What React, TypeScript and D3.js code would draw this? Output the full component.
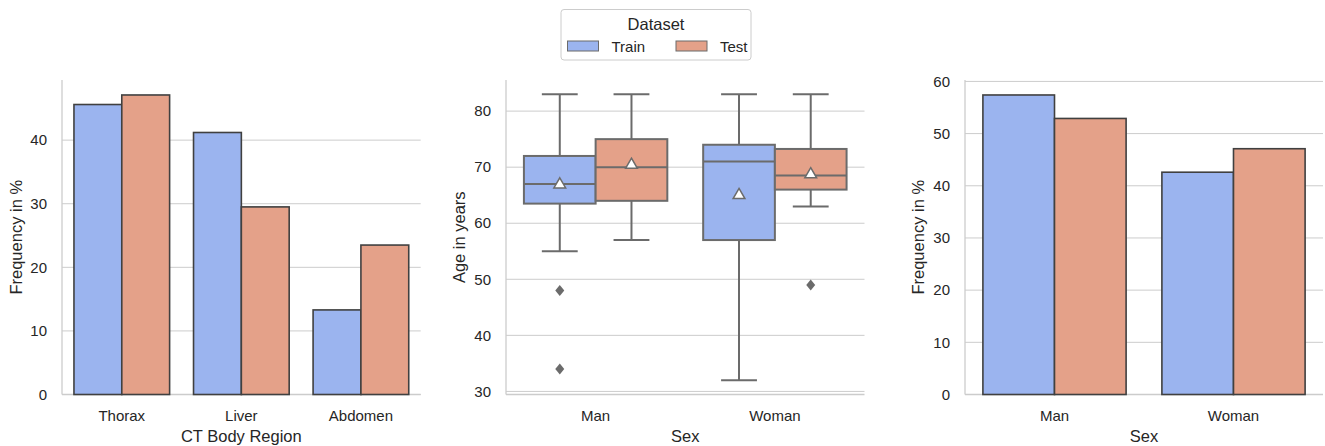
import * as d3 from 'd3'

// values
const regions = ['Thorax', 'Liver', 'Abdomen']
const regionTrain = [45.6, 41.2, 13.3]
const regionTest = [47.1, 29.5, 23.5]

const sexes = ['Man', 'Woman']
const sexTrain = [57.4, 42.6]
const sexTest = [52.9, 47.1]

// age boxplots: [Man, Woman]
const ageTrainLow = [55, 32]
const ageTrainQ1 = [63.5, 57]
const ageTrainMed = [67, 71]
const ageTrainQ3 = [72, 74]
const ageTrainHigh = [83, 83]
const ageTrainMean = [66.9, 65]
const ageTrainOut = [[48, 34], []]

const ageTestLow = [57, 63]
const ageTestQ1 = [64, 66]
const ageTestMed = [70, 68.5]
const ageTestQ3 = [75, 73.25]
const ageTestHigh = [83, 83]
const ageTestMean = [70.4, 68.7]
const ageTestOut = [[], [49]]

const ageTicks = [30, 40, 50, 60, 70, 80]
const regionTicks = [0, 10, 20, 30, 40]
const sexTicks = [0, 10, 20, 30, 40, 50, 60]

const seriesNames = ['Train', 'Test']
const colors = ['#9bb4ef', '#e4a189']
const boxGray = '#6b6b6b'
const barEdge = '#404040'
const gridColor = '#cccccc'
const textColor = '#262626'
const font = '"Liberation Sans", Arial, sans-serif'

const TOP = 80
const BOTTOM = 394.5

function Frame({ x0, x1, y, ticks, cats, xs, ylabel, xlabel, labelX }) {
  return (
    <g>
      {ticks.map((t) => (
        <g key={t}>
          <line x1={x0} x2={x1} y1={y(t)} y2={y(t)} stroke={gridColor} strokeWidth={1} />
          <text x={x0 - 15} y={y(t)} dy="0.35em" textAnchor="end" fontSize={15} fill={textColor}>{t}</text>
        </g>
      ))}
      <line x1={x0} x2={x0} y1={TOP} y2={BOTTOM} stroke={gridColor} strokeWidth={1.3} />
      <line x1={x0} x2={x1} y1={BOTTOM} y2={BOTTOM} stroke={gridColor} strokeWidth={1.3} />
      {cats.map((c) => (
        <text key={c} x={xs(c) + xs.bandwidth() / 2} y={421} textAnchor="middle" fontSize={15} fill={textColor}>{c}</text>
      ))}
      <text x={(x0 + x1) / 2} y={442} textAnchor="middle" fontSize={16.5} fill={textColor}>{xlabel}</text>
      <text transform={`translate(${labelX},${(TOP + BOTTOM) / 2}) rotate(-90)`} textAnchor="middle" dy="0.35em" fontSize={16.5} fill={textColor}>{ylabel}</text>
    </g>
  )
}

function BarPanel({ x0, x1, cats, train, test, ticks, ylabel, xlabel, labelX }) {
  const ymax = d3.max([...train, ...test]) * 1.05
  const y = d3.scaleLinear().domain([0, ymax]).range([BOTTOM, TOP])
  const xs = d3.scaleBand().domain(cats).range([x0, x1])
  const inner = d3.scaleBand().domain(seriesNames).range([0, xs.bandwidth() * 0.8])
  const off = xs.bandwidth() * 0.1
  const series = [train, test]
  return (
    <g>
      <Frame x0={x0} x1={x1} y={y} ticks={ticks} cats={cats} xs={xs} ylabel={ylabel} xlabel={xlabel} labelX={labelX} />
      {series.map((vals, si) =>
        vals.map((v, i) => (
          <rect key={`${si}-${i}`}
            x={xs(cats[i]) + off + inner(seriesNames[si])}
            y={y(v)}
            width={inner.bandwidth()}
            height={y(0) - y(v)}
            fill={colors[si]} stroke={barEdge} strokeWidth={1.6} />
        ))
      )}
    </g>
  )
}

function BoxPanel({ x0, x1 }) {
  const lo = 32, hi = 83
  const pad = (hi - lo) * 0.05
  const y = d3.scaleLinear().domain([lo - pad, hi + pad]).range([BOTTOM, TOP])
  const xs = d3.scaleBand().domain(sexes).range([x0, x1])
  const inner = d3.scaleBand().domain(seriesNames).range([0, xs.bandwidth() * 0.8])
  const off = xs.bandwidth() * 0.1
  const stats = [
    { low: ageTrainLow, q1: ageTrainQ1, med: ageTrainMed, q3: ageTrainQ3, high: ageTrainHigh, mean: ageTrainMean, out: ageTrainOut },
    { low: ageTestLow, q1: ageTestQ1, med: ageTestMed, q3: ageTestQ3, high: ageTestHigh, mean: ageTestMean, out: ageTestOut },
  ]
  const tri = d3.symbol().type(d3.symbolTriangle).size(60)()
  const diamond = 'M0,-5.5L4.5,0L0,5.5L-4.5,0Z'
  return (
    <g>
      <Frame x0={x0} x1={x1} y={y} ticks={ageTicks} cats={sexes} xs={xs} ylabel="Age in years" xlabel="Sex" labelX={459} />
      {stats.map((s, si) =>
        sexes.map((c, i) => {
          const bx = xs(c) + off + inner(seriesNames[si])
          const bw = inner.bandwidth()
          const cx = bx + bw / 2
          const cap = bw / 4
          return (
            <g key={`${si}-${i}`} stroke={boxGray} strokeWidth={2} fill="none">
              <line x1={cx} x2={cx} y1={y(s.high[i])} y2={y(s.q3[i])} />
              <line x1={cx} x2={cx} y1={y(s.q1[i])} y2={y(s.low[i])} />
              <line x1={cx - cap} x2={cx + cap} y1={y(s.high[i])} y2={y(s.high[i])} />
              <line x1={cx - cap} x2={cx + cap} y1={y(s.low[i])} y2={y(s.low[i])} />
              <rect x={bx} y={y(s.q3[i])} width={bw} height={y(s.q1[i]) - y(s.q3[i])} fill={colors[si]} />
              <line x1={bx} x2={bx + bw} y1={y(s.med[i])} y2={y(s.med[i])} />
              <path d={tri} transform={`translate(${cx},${y(s.mean[i])})`} fill="#ffffff" strokeWidth={1.5} />
              {s.out[i].map((o) => (
                <path key={o} d={diamond} transform={`translate(${cx},${y(o)})`} fill={boxGray} stroke="none" />
              ))}
            </g>
          )
        })
      )}
    </g>
  )
}

function Legend() {
  return (
    <g>
      <rect x={561} y={9.5} width={190} height={50.5} rx={3} fill="#ffffff" fillOpacity={0.8} stroke={gridColor} strokeWidth={1} />
      <text x={656} y={30} textAnchor="middle" fontSize={16.5} fill={textColor}>Dataset</text>
      {seriesNames.map((n, i) => {
        const px = i === 0 ? 567.5 : 676
        return (
          <g key={n}>
            <rect x={px} y={41} width={31} height={10} fill={colors[i]} stroke={boxGray} strokeWidth={1} />
            <text x={px + 44} y={51.5} fontSize={15} fill={textColor}>{n}</text>
          </g>
        )
      })}
    </g>
  )
}

export default function App() {
  return (
    <div style={{ position: 'fixed', left: 0, top: 0, background: '#fff' }}>
      <svg width={1325} height={446} style={{ display: 'block', fontFamily: font }}>
        <rect width={1325} height={446} fill="#ffffff" />
        <BarPanel x0={62} x1={420.7} cats={regions} train={regionTrain} test={regionTest} ticks={regionTicks}
          ylabel="Frequency in %" xlabel="CT Body Region" labelX={16} />
        <BoxPanel x0={506} x1={864.5} />
        <BarPanel x0={965} x1={1323} cats={sexes} train={sexTrain} test={sexTest} ticks={sexTicks}
          ylabel="Frequency in %" xlabel="Sex" labelX={918} />
        <Legend />
      </svg>
    </div>
  )
}
